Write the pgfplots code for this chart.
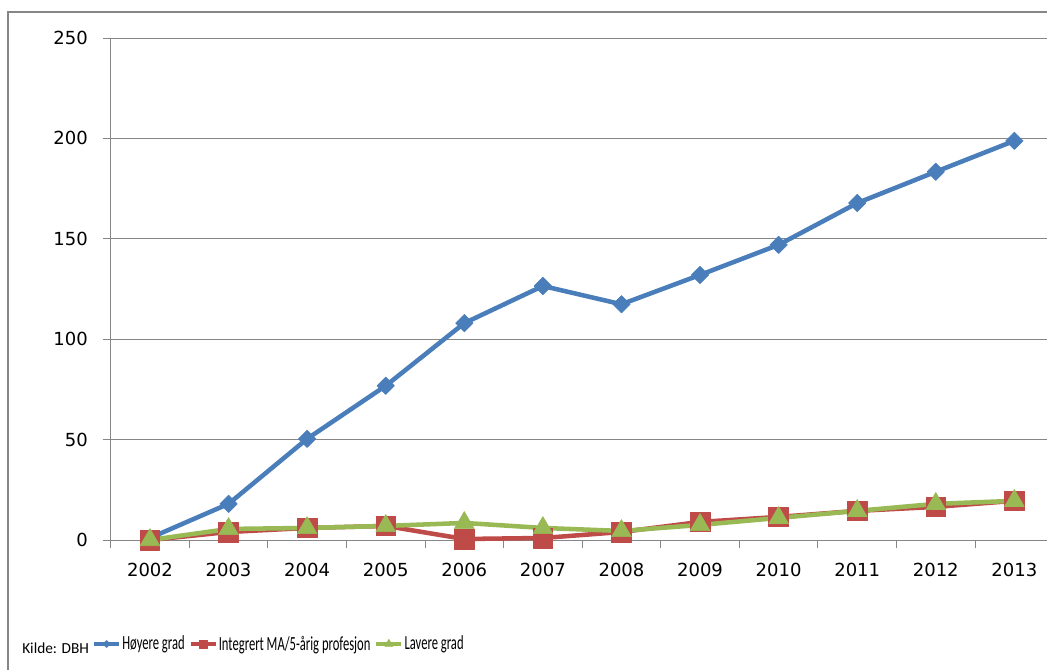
\documentclass[border=0pt]{standalone}
\usepackage{pgfplots}
\pgfplotsset{compat=1.18}
\usepackage{fontspec}
\setmainfont{Carlito}
\newfontfamily\tickfont{DejaVu Sans}
\definecolor{cblue}{HTML}{4A7EBB}
\definecolor{cred}{HTML}{BE4B48}
\definecolor{cgreen}{HTML}{98B954}
\definecolor{cgrid}{HTML}{868686}
\newcommand\lgt[1]{\scalebox{0.63}[1]{#1}}
\begin{document}
\begin{tikzpicture}
\useasboundingbox (0,0) rectangle (785.25pt,501.75pt);
\clip (0,0) rectangle (785.25pt,501.75pt);
\fill[white] (0,0) rectangle (785.25pt,501.75pt);
\draw[cgrid, line width=1.5pt] (6pt,-10pt) -- (6pt,492.4pt) -- (800pt,492.4pt);
\node[anchor=west, inner sep=0pt, font=\fontsize{11.5}{13}\selectfont] at (16.5pt,15.75pt) {Kilde: DBH};
\begin{axis}[
  at={(83pt,96.75pt)}, anchor=south west,
  scale only axis, width=707.25pt, height=376.5pt,
  xmin=2001.5, xmax=2013.5, ymin=0, ymax=250,
  clip=false,
  axis x line*=bottom, axis y line*=left,
  axis line style={cgrid, line width=0.75pt, -},
  xtick={2002,2003,2004,2005,2006,2007,2008,2009,2010,2011,2012,2013},
  xticklabels={2002,2003,2004,2005,2006,2007,2008,2009,2010,2011,2012,2013},
  minor xtick={2001.5,2002.5,2003.5,2004.5,2005.5,2006.5,2007.5,2008.5,2009.5,2010.5,2011.5,2012.5,2013.5},
  ytick={0,50,100,150,200,250},
  ymajorgrids, grid style={cgrid, line width=0.75pt},
  tick align=outside, major tick length=6pt, minor tick length=6pt,
  major x tick style={draw=none},
  minor x tick style={cgrid, line width=0.75pt},
  major y tick style={cgrid, line width=0.75pt},
  tick label style={font=\tickfont\fontsize{13.5}{16}\selectfont, black},
  xticklabel style={anchor=north, inner sep=0pt, yshift=-11pt},
  yticklabel style={anchor=east, inner sep=0pt, xshift=-11pt},
  /pgf/number format/assume math mode=true,
  /pgf/number format/1000 sep={},
  legend columns=3,
  legend style={at={(0,0)}, anchor=west, xshift=-14pt, yshift=-78pt, draw=none, fill=none, inner sep=0pt,
    font=\fontsize{15}{17}\selectfont,
    /tikz/every even column/.append style={column sep=2pt},
    nodes={inner sep=1pt}},
  legend image code/.code={\draw[/tikz/every mark/.append style={scale=0.4}, line width=2.8pt, mark repeat=2, mark phase=2] plot coordinates {(0cm,0cm) (0.33cm,0cm) (0.66cm,0cm)};},
]
\addplot[cblue, line width=3.4pt, line join=round, mark=square*, mark size=4.6pt,
  mark options={rotate=45, solid, line width=0.5pt, fill=cblue}]
  coordinates {(2002,1) (2003,18) (2004,50.4) (2005,76.8) (2006,108) (2007,126.5) (2008,117.4) (2009,132) (2010,147) (2011,167.8) (2012,183.4) (2013,198.8)};
\addplot[cred, line width=3.4pt, line join=round, mark=square*, mark size=7.4pt,
  mark options={solid, line width=0.5pt, fill=cred}]
  coordinates {(2002,0) (2003,4) (2004,6) (2005,7) (2006,0.5) (2007,1) (2008,4) (2009,9) (2010,11.5) (2011,14.5) (2012,16.5) (2013,19.5)};
\addplot[cgreen, line width=3.4pt, line join=round, mark=triangle*, mark size=8.5pt,
  mark options={solid, line width=0.5pt, fill=cgreen}]
  coordinates {(2002,0) (2003,5.5) (2004,6) (2005,7) (2006,8.5) (2007,6) (2008,4.5) (2009,7.5) (2010,11) (2011,14.5) (2012,18) (2013,19.5)};
\legend{\lgt{Høyere grad},\lgt{Integrert MA/5-årig profesjon},\lgt{Lavere grad}}
\end{axis}
\end{tikzpicture}
\end{document}
